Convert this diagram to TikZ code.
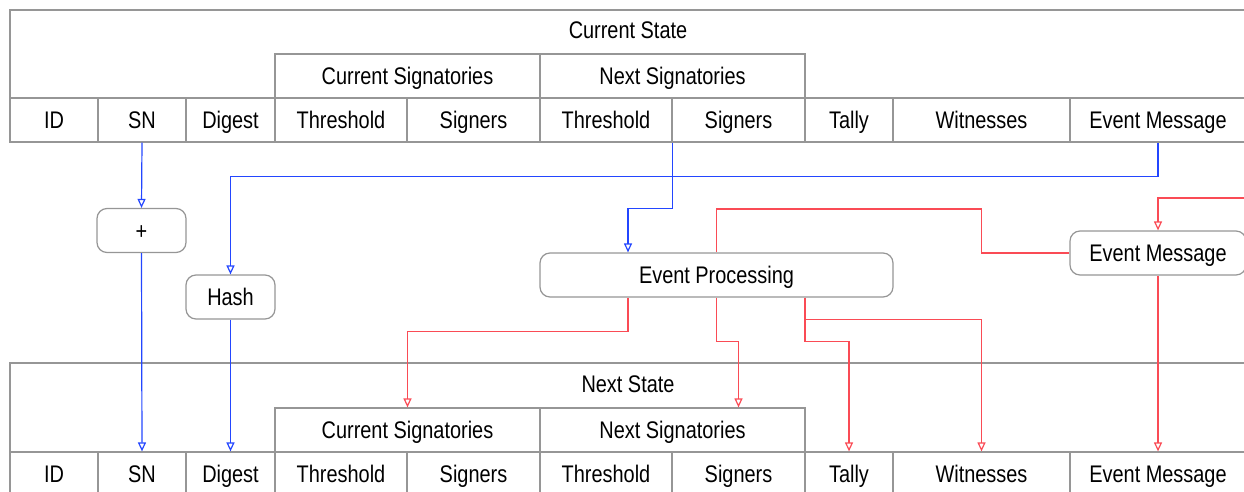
\documentclass[tikz,border=0pt]{standalone}
\usepackage{fontspec}
\setmainfont{Liberation Sans}[FakeStretch=0.83]
\usetikzlibrary{arrows.meta,positioning,calc}

\definecolor{flowblue}{RGB}{35,70,255}
\definecolor{flowred}{RGB}{250,75,85}
\definecolor{cellgray}{RGB}{150,150,150}

\begin{document}
\begin{tikzpicture}[
    x=1pt, y=-1pt,
    >={Triangle[open,length=9pt,width=8pt]},
    font=\fontsize{24}{27}\selectfont,
    cell/.style={
        rectangle,
        draw=cellgray,
        line width=1.2pt,
        inner sep=0pt,
        text height=19.5pt,
        text depth=2.5pt,
        minimum width=#1,
        minimum height=44pt
    },
    statebox/.style={
        rectangle,
        draw=cellgray,
        line width=1.2pt,
        inner sep=0pt,
        minimum width=1236pt,
        minimum height=#1
    },
    opbox/.style={
        rectangle,
        rounded corners=10pt,
        draw=cellgray,
        line width=1.2pt,
        fill=white,
        inner sep=0pt,
        text height=19.5pt,
        text depth=2.5pt,
        minimum width=#1,
        minimum height=44pt
    },
    blueflow/.style={
        draw=flowblue,
        line width=1.2pt
    },
    redflow/.style={
        draw=flowred,
        line width=1.2pt
    }
]

\useasboundingbox (0,0) rectangle (1244,492);

% Current state table
\node[statebox=132pt] (curstate) at (628,76) {};
\node[text height=19.5pt,text depth=2.5pt] (curtitle) at (628,30) {Current State};
\node[cell=265pt] (cCurSig) at (407.5,76) {Current Signatories};
\node[cell=265pt] (cNextSig) at (672.5,76) {Next Signatories};
\node[cell=88pt] (cID) at (54,120) {ID};
\node[cell=88pt] (cSN) at (142,120) {SN};
\node[cell=89pt] (cDig) at (230.5,120) {Digest};
\node[cell=132pt] (cThr1) at (341,120) {Threshold};
\node[cell=133pt] (cSgn1) at (473.5,120) {Signers};
\node[cell=132pt] (cThr2) at (606,120) {Threshold};
\node[cell=133pt] (cSgn2) at (738.5,120) {Signers};
\node[cell=88pt] (cTal) at (849,120) {Tally};
\node[cell=177pt] (cWit) at (981.5,120) {Witnesses};
\node[cell=176pt] (cEM) at (1158,120) {Event Message};

% Next state table
\node[statebox=133pt] (nextstate) at (628,429.5) {};
\node[text height=19.5pt,text depth=2.5pt] (nexttitle) at (628,384) {Next State};
\node[cell=265pt] (nCurSig) at (407.5,430) {Current Signatories};
\node[cell=265pt] (nNextSig) at (672.5,430) {Next Signatories};
\node[cell=88pt] (nID) at (54,474) {ID};
\node[cell=88pt] (nSN) at (142,474) {SN};
\node[cell=89pt] (nDig) at (230.5,474) {Digest};
\node[cell=132pt] (nThr1) at (341,474) {Threshold};
\node[cell=133pt] (nSgn1) at (473.5,474) {Signers};
\node[cell=132pt] (nThr2) at (606,474) {Threshold};
\node[cell=133pt] (nSgn2) at (738.5,474) {Signers};
\node[cell=88pt] (nTal) at (849,474) {Tally};
\node[cell=177pt] (nWit) at (981.5,474) {Witnesses};
\node[cell=176pt] (nEM) at (1158,474) {Event Message};

% Operations
\node[opbox=89pt] (plus) at (141.5,230.5) {+};
\node[opbox=89pt] (hash) at (230.5,297) {Hash};
\node[opbox=353pt] (proc) at (716.5,275) {Event Processing};
\node[opbox=176pt] (emsg) at (1158,253) {Event Message};
\coordinate (emsrc) at (1260,198);

% Blue flows
\draw[blueflow,->] (cSN.south) -- (plus.north);
\draw[blueflow,->] (plus.south) -- (nSN.north);
\draw[blueflow,->] (cEM.south) -- ++(0,34) -| (hash.north);
\draw[blueflow,->] (hash.south) -- (nDig.north);
\draw[blueflow,->] (cNextSig |- cSgn2.south) -- ++(0,66) -| ([xshift=-88.5pt]proc.north);

% Red flows
\draw[redflow,->] (emsrc) -| (emsg.north);
\draw[redflow] (emsg.west) -- ++(-88,0) -- ++(0,-44) -| (proc.north);
\draw[redflow,->] ([xshift=-88.5pt]proc.south) -- ++(0,34) -| (nCurSig.north);
\draw[redflow,->] (proc.south) -- ++(0,44) -| (nSgn2 |- nNextSig.north);
\draw[redflow,->] ([xshift=88.5pt]proc.south) -- ++(0,22) -| (nWit.north);
\draw[redflow,->] ([xshift=88.5pt]proc.south) -- ++(0,44) -| (nTal.north);
\draw[redflow,->] (emsg.south) -- (nEM.north);

\end{tikzpicture}
\end{document}
